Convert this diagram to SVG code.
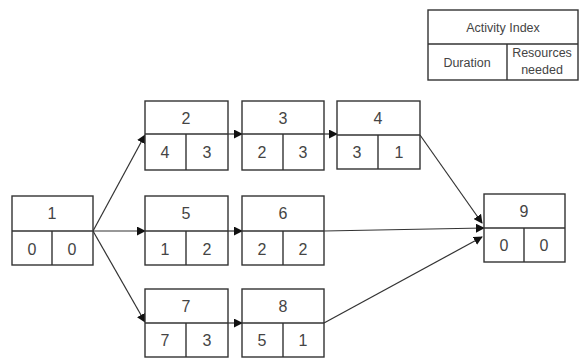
<svg xmlns="http://www.w3.org/2000/svg" width="580" height="358" viewBox="0 0 580 358">
<defs>
<style>
.box{fill:#fff;stroke:#333;stroke-width:1.4}
.ln{stroke:#333;stroke-width:1.4;fill:none}
.t{font-family:"Liberation Sans",Arial,sans-serif;font-size:16px;fill:#444;text-anchor:middle}
.s{font-family:"Liberation Sans",Arial,sans-serif;font-size:12.5px;fill:#444;text-anchor:middle}
.c{stroke:#333;stroke-width:1.2;fill:none;marker-end:url(#ah)}
</style>
<marker id="ah" viewBox="0 0 10 10" refX="9" refY="5" markerWidth="9" markerHeight="9" markerUnits="userSpaceOnUse" orient="auto">
<path d="M0,0 L10,5 L0,10 z" fill="#111"/>
</marker>
</defs>
<rect width="580" height="358" fill="#fff"/>
<g id="legend">
<rect class="box" x="428" y="10" width="150" height="70"/>
<line class="ln" x1="428" y1="44" x2="578" y2="44"/>
<line class="ln" x1="507" y1="44" x2="507" y2="80"/>
<text class="s" x="503" y="32">Activity Index</text>
<text class="s" x="467" y="67">Duration</text>
<text class="s" x="542" y="57">Resources</text>
<text class="s" x="542" y="74">needed</text>
</g>
<g id="connectors">
<line class="c" x1="93" y1="231" x2="145" y2="135"/>
<line class="c" x1="93" y1="231" x2="145" y2="231"/>
<line class="c" x1="93" y1="231" x2="145" y2="322"/>
<line class="c" x1="228" y1="134" x2="242" y2="134"/>
<line class="c" x1="324" y1="134" x2="337" y2="134"/>
<line class="c" x1="228" y1="231" x2="242" y2="231"/>
<line class="c" x1="228" y1="323" x2="242" y2="323"/>
<line class="c" x1="420" y1="135" x2="482" y2="223"/>
<line class="c" x1="324" y1="231" x2="484" y2="228"/>
<line class="c" x1="324" y1="323" x2="482" y2="237"/>
</g>
<g id="n1">
<rect class="box" x="12" y="196" width="81" height="69"/>
<line class="ln" x1="12" y1="231" x2="93" y2="231"/>
<line class="ln" x1="52" y1="231" x2="52" y2="265"/>
<text class="t" x="52" y="219">1</text>
<text class="t" x="32" y="255">0</text>
<text class="t" x="72" y="255">0</text>
</g>
<g id="n2">
<rect class="box" x="145" y="101" width="83" height="69"/>
<line class="ln" x1="145" y1="134" x2="228" y2="134"/>
<line class="ln" x1="186" y1="134" x2="186" y2="170"/>
<text class="t" x="186" y="124">2</text>
<text class="t" x="165" y="158">4</text>
<text class="t" x="207" y="158">3</text>
</g>
<g id="n3">
<rect class="box" x="242" y="101" width="82" height="69"/>
<line class="ln" x1="242" y1="134" x2="324" y2="134"/>
<line class="ln" x1="283" y1="134" x2="283" y2="170"/>
<text class="t" x="283" y="124">3</text>
<text class="t" x="262" y="158">2</text>
<text class="t" x="303" y="158">3</text>
</g>
<g id="n4">
<rect class="box" x="337" y="101" width="83" height="68"/>
<line class="ln" x1="337" y1="135" x2="420" y2="135"/>
<line class="ln" x1="378" y1="135" x2="378" y2="169"/>
<text class="t" x="378" y="124">4</text>
<text class="t" x="357" y="158">3</text>
<text class="t" x="399" y="158">1</text>
</g>
<g id="n5">
<rect class="box" x="145" y="196" width="83" height="69"/>
<line class="ln" x1="145" y1="231" x2="228" y2="231"/>
<line class="ln" x1="186" y1="231" x2="186" y2="265"/>
<text class="t" x="186" y="219">5</text>
<text class="t" x="165" y="255">1</text>
<text class="t" x="207" y="255">2</text>
</g>
<g id="n6">
<rect class="box" x="242" y="196" width="82" height="69"/>
<line class="ln" x1="242" y1="231" x2="324" y2="231"/>
<line class="ln" x1="283" y1="231" x2="283" y2="265"/>
<text class="t" x="283" y="219">6</text>
<text class="t" x="262" y="255">2</text>
<text class="t" x="303" y="255">2</text>
</g>
<g id="n7">
<rect class="box" x="145" y="289" width="83" height="68"/>
<line class="ln" x1="145" y1="323" x2="228" y2="323"/>
<line class="ln" x1="186" y1="323" x2="186" y2="357"/>
<text class="t" x="186" y="312">7</text>
<text class="t" x="165" y="346">7</text>
<text class="t" x="207" y="346">3</text>
</g>
<g id="n8">
<rect class="box" x="242" y="289" width="82" height="68"/>
<line class="ln" x1="242" y1="323" x2="324" y2="323"/>
<line class="ln" x1="283" y1="323" x2="283" y2="357"/>
<text class="t" x="283" y="312">8</text>
<text class="t" x="262" y="346">5</text>
<text class="t" x="303" y="346">1</text>
</g>
<g id="n9">
<rect class="box" x="484" y="194" width="81" height="68"/>
<line class="ln" x1="484" y1="228" x2="565" y2="228"/>
<line class="ln" x1="524" y1="228" x2="524" y2="262"/>
<text class="t" x="524" y="217">9</text>
<text class="t" x="504" y="251">0</text>
<text class="t" x="544" y="251">0</text>
</g>
</svg>
